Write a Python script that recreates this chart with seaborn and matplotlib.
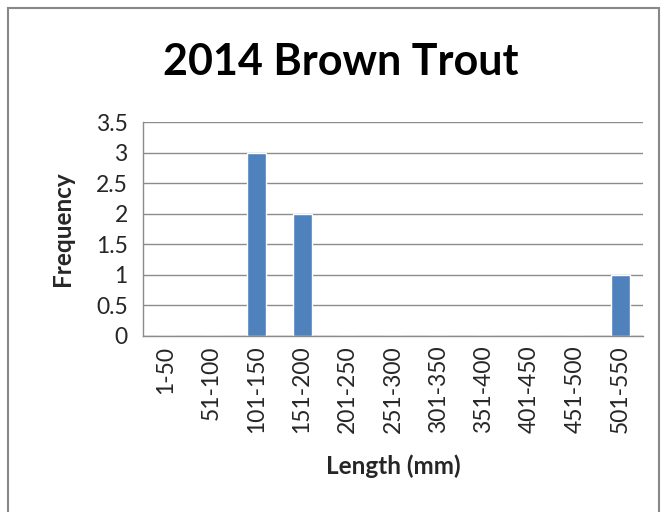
import matplotlib
matplotlib.use("Agg")
import matplotlib.pyplot as plt
import seaborn as sns
import pandas as pd
from matplotlib.patches import Rectangle

# chart data
length_bins = ['1-50', '51-100', '101-150', '151-200', '201-250', '251-300',
               '301-350', '351-400', '401-450', '451-500', '501-550']
frequency = [0, 0, 3, 2, 0, 0, 0, 0, 0, 0, 1]
y_ticks = [0, 0.5, 1, 1.5, 2, 2.5, 3, 3.5]
y_tick_labels = ['0', '0.5', '1', '1.5', '2', '2.5', '3', '3.5']

df = pd.DataFrame({'Length (mm)': length_bins, 'Frequency': frequency})

sns.set_style("white")
plt.rcParams['font.family'] = ['Lato', 'DejaVu Sans']

fig = plt.figure(figsize=(6.67, 5.12), dpi=100)
ax = fig.add_axes([0.2144, 0.3438, 0.7496, 0.4179])

sns.barplot(data=df, x='Length (mm)', y='Frequency', color='#4F81BD',
            width=0.42, saturation=1, ax=ax)

grid_col = '#8C8C8C'
ax.set_ylim(0, 3.5)
ax.set_xlim(-0.5, len(length_bins) - 0.5)
ax.set_yticks(y_ticks)
ax.set_yticklabels(y_tick_labels, fontsize=16.5, color='#262626')
ax.yaxis.grid(True, color=grid_col, linewidth=1)
ax.set_axisbelow(True)

# category labels centred, ticks on category boundaries
ax.set_xticks(range(len(length_bins)))
ax.set_xticklabels(length_bins, rotation=90, fontsize=16.5, color='#262626')
ax.set_xticks([i - 0.5 for i in range(len(length_bins) + 1)], minor=True)
ax.tick_params(axis='x', which='major', length=0, pad=7)
ax.tick_params(axis='x', which='minor', length=6, width=1, color=grid_col, direction='out')
ax.tick_params(axis='y', length=7, width=1, color=grid_col, direction='out', pad=4)

for side in ['top', 'right']:
    ax.spines[side].set_visible(False)
for side in ['left', 'bottom']:
    ax.spines[side].set_color(grid_col)
    ax.spines[side].set_linewidth(1)

ax.set_xlabel('Length (mm)', fontsize=17.5, fontweight='bold', labelpad=15)
ax.set_ylabel('Frequency', fontsize=17.5, fontweight='bold', labelpad=16)

fig.text(0.511, 0.878, '2014 Brown Trout', ha='center', va='center',
         fontsize=31, fontweight='bold', color='black')

# outer chart border
fig.patches.append(Rectangle((8 / 667, -0.1), 651 / 667, 1.1 - 8 / 512,
                             transform=fig.transFigure, fill=False,
                             edgecolor='#888888', linewidth=1.5))

fig.savefig('out.png', dpi=100)
